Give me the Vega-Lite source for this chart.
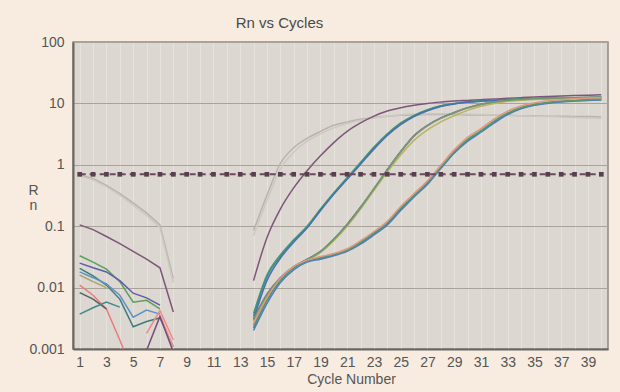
{
  "$schema": "https://vega.github.io/schema/vega-lite/v6.json",
  "width": 535,
  "height": 307,
  "autosize": "none",
  "padding": {"left": 73, "top": 42, "right": 12, "bottom": 43},
  "background": "#f8ece0",
  "config": {
    "font": "Liberation Sans",
    "view": {"fill": "#dcd7d0", "stroke": "#8e8984", "strokeWidth": 1.5},
    "axis": {"labelFont": "Liberation Sans", "titleFont": "Liberation Sans", "labelColor": "#555555", "titleColor": "#555555", "titleFontWeight": "normal", "labelFontSize": 14, "titleFontSize": 14, "ticks": false, "domainColor": "#6a6560", "domainWidth": 2}
  },
  "title": {"text": "Rn vs Cycles", "fontSize": 15, "fontWeight": "normal", "color": "#4a4a4a", "font": "Liberation Sans", "anchor": "middle", "dx": -61, "baseline": "bottom", "offset": -11},
  "datasets": {
    "curves": [
      {"s":"gA","x":1,"y":0.68},{"s":"gA","x":2,"y":0.6},{"s":"gA","x":3,"y":0.46},{"s":"gA","x":4,"y":0.34},{"s":"gA","x":5,"y":0.24},{"s":"gA","x":6,"y":0.165},{"s":"gA","x":7,"y":0.105},{"s":"gA","x":8,"y":0.014},
      {"s":"gB","x":1,"y":0.66},{"s":"gB","x":2,"y":0.57},{"s":"gB","x":3,"y":0.44},{"s":"gB","x":4,"y":0.32},{"s":"gB","x":5,"y":0.22},{"s":"gB","x":6,"y":0.15},{"s":"gB","x":7,"y":0.095},{"s":"gB","x":8,"y":0.012},
      {"s":"pu","x":1,"y":0.105},{"s":"pu","x":2,"y":0.088},{"s":"pu","x":3,"y":0.068},{"s":"pu","x":4,"y":0.052},{"s":"pu","x":5,"y":0.039},{"s":"pu","x":6,"y":0.029},{"s":"pu","x":7,"y":0.021},{"s":"pu","x":8,"y":0.004},
      {"s":"eg","x":1,"y":0.033},{"s":"eg","x":2,"y":0.026},{"s":"eg","x":3,"y":0.02},{"s":"eg","x":4,"y":0.0125},{"s":"eg","x":5,"y":0.0058},{"s":"eg","x":6,"y":0.0062},{"s":"eg","x":7,"y":0.0045},
      {"s":"edb","x":1,"y":0.025},{"s":"edb","x":2,"y":0.021},{"s":"edb","x":3,"y":0.018},{"s":"edb","x":4,"y":0.013},{"s":"edb","x":5,"y":0.0081},{"s":"edb","x":6,"y":0.0068},{"s":"edb","x":7,"y":0.0052},
      {"s":"et","x":1,"y":0.0205},{"s":"et","x":2,"y":0.0155},{"s":"et","x":3,"y":0.011},{"s":"et","x":4,"y":0.0065},{"s":"et","x":5,"y":0.0023},{"s":"et","x":6,"y":0.0028},{"s":"et","x":7,"y":0.0032},{"s":"et","x":8,"y":0.0011},
      {"s":"elb","x":1,"y":0.018},{"s":"elb","x":2,"y":0.0145},{"s":"elb","x":3,"y":0.0115},{"s":"elb","x":4,"y":0.0075},{"s":"elb","x":5,"y":0.0033},{"s":"elb","x":6,"y":0.0043},{"s":"elb","x":7,"y":0.0037},
      {"s":"eo","x":1,"y":0.016},{"s":"eo","x":2,"y":0.0125},{"s":"eo","x":3,"y":0.01},
      {"s":"er","x":1,"y":0.011},{"s":"er","x":2,"y":0.0075},{"s":"er","x":3,"y":0.0045},{"s":"er","x":4,"y":0.0014},{"s":"er","x":5,"y":0.0004},
      {"s":"edg","x":1,"y":0.0083},{"s":"edg","x":2,"y":0.0065},{"s":"edg","x":3,"y":0.0045},
      {"s":"etl","x":1,"y":0.0037},{"s":"etl","x":2,"y":0.0047},{"s":"etl","x":3,"y":0.0058},{"s":"etl","x":4,"y":0.0048},
      {"s":"ep1","x":6,"y":0.0018},{"s":"ep1","x":7,"y":0.0042},{"s":"ep1","x":8,"y":0.0014},
      {"s":"ep2","x":7,"y":0.0035},{"s":"ep2","x":8,"y":0.0011},
      {"s":"epu","x":6,"y":0.00095},{"s":"epu","x":7,"y":0.0034},{"s":"epu","x":8,"y":0.0009},

      {"s":"gA","x":14,"y":0.085},{"s":"gA","x":15,"y":0.32},{"s":"gA","x":16,"y":1.05},{"s":"gA","x":17,"y":1.9},{"s":"gA","x":18,"y":2.7},{"s":"gA","x":19,"y":3.5},{"s":"gA","x":20,"y":4.4},{"s":"gA","x":21,"y":5.0},{"s":"gA","x":22,"y":5.5},{"s":"gA","x":23,"y":5.9},{"s":"gA","x":24,"y":6.2},{"s":"gA","x":25,"y":6.4},{"s":"gA","x":26,"y":6.5},{"s":"gA","x":27,"y":6.6},{"s":"gA","x":28,"y":6.6},{"s":"gA","x":29,"y":6.6},{"s":"gA","x":30,"y":6.5},{"s":"gA","x":31,"y":6.5},{"s":"gA","x":32,"y":6.4},{"s":"gA","x":33,"y":6.4},{"s":"gA","x":34,"y":6.3},{"s":"gA","x":35,"y":6.3},{"s":"gA","x":36,"y":6.2},{"s":"gA","x":37,"y":6.2},{"s":"gA","x":38,"y":6.1},{"s":"gA","x":39,"y":6.1},{"s":"gA","x":40,"y":6.0},
      {"s":"gB","x":14,"y":0.07},{"s":"gB","x":15,"y":0.26},{"s":"gB","x":16,"y":0.85},{"s":"gB","x":17,"y":1.6},{"s":"gB","x":18,"y":2.4},{"s":"gB","x":19,"y":3.2},{"s":"gB","x":20,"y":4.0},{"s":"gB","x":21,"y":4.7},{"s":"gB","x":22,"y":5.3},{"s":"gB","x":23,"y":5.8},{"s":"gB","x":24,"y":6.2},{"s":"gB","x":25,"y":6.5},{"s":"gB","x":26,"y":6.7},{"s":"gB","x":27,"y":6.8},{"s":"gB","x":28,"y":6.8},{"s":"gB","x":29,"y":6.8},{"s":"gB","x":30,"y":6.7},{"s":"gB","x":31,"y":6.6},{"s":"gB","x":32,"y":6.5},{"s":"gB","x":33,"y":6.4},{"s":"gB","x":34,"y":6.3},{"s":"gB","x":35,"y":6.2},{"s":"gB","x":36,"y":6.1},{"s":"gB","x":37,"y":6.0},{"s":"gB","x":38,"y":5.9},{"s":"gB","x":39,"y":5.8},{"s":"gB","x":40,"y":5.7},
      {"s":"pu","x":14,"y":0.013},{"s":"pu","x":15,"y":0.065},{"s":"pu","x":16,"y":0.19},{"s":"pu","x":17,"y":0.42},{"s":"pu","x":18,"y":0.8},{"s":"pu","x":19,"y":1.4},{"s":"pu","x":20,"y":2.3},{"s":"pu","x":21,"y":3.5},{"s":"pu","x":22,"y":4.8},{"s":"pu","x":23,"y":6.2},{"s":"pu","x":24,"y":7.5},{"s":"pu","x":25,"y":8.5},{"s":"pu","x":26,"y":9.3},{"s":"pu","x":27,"y":10.0},{"s":"pu","x":28,"y":10.5},{"s":"pu","x":29,"y":10.9},{"s":"pu","x":30,"y":11.2},{"s":"pu","x":31,"y":11.5},{"s":"pu","x":32,"y":11.8},{"s":"pu","x":33,"y":12.1},{"s":"pu","x":34,"y":12.4},{"s":"pu","x":35,"y":12.7},{"s":"pu","x":36,"y":13.0},{"s":"pu","x":37,"y":13.2},{"s":"pu","x":38,"y":13.4},{"s":"pu","x":39,"y":13.6},{"s":"pu","x":40,"y":13.8},
      {"s":"g3a","x":14,"y":0.0038},{"s":"g3a","x":15,"y":0.016},{"s":"g3a","x":16,"y":0.034},{"s":"g3a","x":17,"y":0.06},{"s":"g3a","x":18,"y":0.1},{"s":"g3a","x":19,"y":0.19},{"s":"g3a","x":20,"y":0.35},{"s":"g3a","x":21,"y":0.62},{"s":"g3a","x":22,"y":1.1},{"s":"g3a","x":23,"y":1.95},{"s":"g3a","x":24,"y":3.2},{"s":"g3a","x":25,"y":4.8},{"s":"g3a","x":26,"y":6.4},{"s":"g3a","x":27,"y":7.9},{"s":"g3a","x":28,"y":9.2},{"s":"g3a","x":29,"y":10.0},{"s":"g3a","x":30,"y":10.6},{"s":"g3a","x":31,"y":11.0},{"s":"g3a","x":32,"y":11.3},{"s":"g3a","x":33,"y":11.6},{"s":"g3a","x":34,"y":11.8},{"s":"g3a","x":35,"y":12.0},{"s":"g3a","x":36,"y":12.2},{"s":"g3a","x":37,"y":12.3},{"s":"g3a","x":38,"y":12.4},{"s":"g3a","x":39,"y":12.5},{"s":"g3a","x":40,"y":12.6},
      {"s":"g3b","x":14,"y":0.0034},{"s":"g3b","x":15,"y":0.015},{"s":"g3b","x":16,"y":0.032},{"s":"g3b","x":17,"y":0.058},{"s":"g3b","x":18,"y":0.097},{"s":"g3b","x":19,"y":0.185},{"s":"g3b","x":20,"y":0.34},{"s":"g3b","x":21,"y":0.6},{"s":"g3b","x":22,"y":1.06},{"s":"g3b","x":23,"y":1.88},{"s":"g3b","x":24,"y":3.1},{"s":"g3b","x":25,"y":4.65},{"s":"g3b","x":26,"y":6.25},{"s":"g3b","x":27,"y":7.75},{"s":"g3b","x":28,"y":9.05},{"s":"g3b","x":29,"y":9.9},{"s":"g3b","x":30,"y":10.5},{"s":"g3b","x":31,"y":10.9},{"s":"g3b","x":32,"y":11.2},{"s":"g3b","x":33,"y":11.5},{"s":"g3b","x":34,"y":11.7},{"s":"g3b","x":35,"y":11.9},{"s":"g3b","x":36,"y":12.1},{"s":"g3b","x":37,"y":12.2},{"s":"g3b","x":38,"y":12.3},{"s":"g3b","x":39,"y":12.4},{"s":"g3b","x":40,"y":12.5},
      {"s":"g3c","x":14,"y":0.003},{"s":"g3c","x":15,"y":0.013},{"s":"g3c","x":16,"y":0.03},{"s":"g3c","x":17,"y":0.055},{"s":"g3c","x":18,"y":0.093},{"s":"g3c","x":19,"y":0.178},{"s":"g3c","x":20,"y":0.33},{"s":"g3c","x":21,"y":0.58},{"s":"g3c","x":22,"y":1.02},{"s":"g3c","x":23,"y":1.8},{"s":"g3c","x":24,"y":3.0},{"s":"g3c","x":25,"y":4.5},{"s":"g3c","x":26,"y":6.1},{"s":"g3c","x":27,"y":7.6},{"s":"g3c","x":28,"y":8.9},{"s":"g3c","x":29,"y":9.8},{"s":"g3c","x":30,"y":10.4},{"s":"g3c","x":31,"y":10.8},{"s":"g3c","x":32,"y":11.1},{"s":"g3c","x":33,"y":11.4},{"s":"g3c","x":34,"y":11.6},{"s":"g3c","x":35,"y":11.8},{"s":"g3c","x":36,"y":12.0},{"s":"g3c","x":37,"y":12.1},{"s":"g3c","x":38,"y":12.2},{"s":"g3c","x":39,"y":12.3},{"s":"g3c","x":40,"y":12.4},
      {"s":"g4a","x":14,"y":0.0031},{"s":"g4a","x":15,"y":0.0078},{"s":"g4a","x":16,"y":0.0145},{"s":"g4a","x":17,"y":0.022},{"s":"g4a","x":18,"y":0.029},{"s":"g4a","x":19,"y":0.039},{"s":"g4a","x":20,"y":0.062},{"s":"g4a","x":21,"y":0.108},{"s":"g4a","x":22,"y":0.205},{"s":"g4a","x":23,"y":0.41},{"s":"g4a","x":24,"y":0.84},{"s":"g4a","x":25,"y":1.65},{"s":"g4a","x":26,"y":3.0},{"s":"g4a","x":27,"y":4.4},{"s":"g4a","x":28,"y":5.8},{"s":"g4a","x":29,"y":7.1},{"s":"g4a","x":30,"y":8.5},{"s":"g4a","x":31,"y":9.7},{"s":"g4a","x":32,"y":10.6},{"s":"g4a","x":33,"y":11.2},{"s":"g4a","x":34,"y":11.6},{"s":"g4a","x":35,"y":11.9},{"s":"g4a","x":36,"y":12.1},{"s":"g4a","x":37,"y":12.3},{"s":"g4a","x":38,"y":12.4},{"s":"g4a","x":39,"y":12.5},{"s":"g4a","x":40,"y":12.6},
      {"s":"g4b","x":14,"y":0.0029},{"s":"g4b","x":15,"y":0.0074},{"s":"g4b","x":16,"y":0.014},{"s":"g4b","x":17,"y":0.021},{"s":"g4b","x":18,"y":0.028},{"s":"g4b","x":19,"y":0.038},{"s":"g4b","x":20,"y":0.06},{"s":"g4b","x":21,"y":0.104},{"s":"g4b","x":22,"y":0.198},{"s":"g4b","x":23,"y":0.4},{"s":"g4b","x":24,"y":0.81},{"s":"g4b","x":25,"y":1.6},{"s":"g4b","x":26,"y":2.9},{"s":"g4b","x":27,"y":4.3},{"s":"g4b","x":28,"y":5.7},{"s":"g4b","x":29,"y":7.0},{"s":"g4b","x":30,"y":8.4},{"s":"g4b","x":31,"y":9.6},{"s":"g4b","x":32,"y":10.5},{"s":"g4b","x":33,"y":11.1},{"s":"g4b","x":34,"y":11.5},{"s":"g4b","x":35,"y":11.8},{"s":"g4b","x":36,"y":12.0},{"s":"g4b","x":37,"y":12.2},{"s":"g4b","x":38,"y":12.3},{"s":"g4b","x":39,"y":12.4},{"s":"g4b","x":40,"y":12.5},
      {"s":"g4c","x":14,"y":0.0028},{"s":"g4c","x":15,"y":0.007},{"s":"g4c","x":16,"y":0.0135},{"s":"g4c","x":17,"y":0.021},{"s":"g4c","x":18,"y":0.028},{"s":"g4c","x":19,"y":0.037},{"s":"g4c","x":20,"y":0.058},{"s":"g4c","x":21,"y":0.1},{"s":"g4c","x":22,"y":0.19},{"s":"g4c","x":23,"y":0.38},{"s":"g4c","x":24,"y":0.76},{"s":"g4c","x":25,"y":1.45},{"s":"g4c","x":26,"y":2.5},{"s":"g4c","x":27,"y":3.7},{"s":"g4c","x":28,"y":5.0},{"s":"g4c","x":29,"y":6.3},{"s":"g4c","x":30,"y":7.7},{"s":"g4c","x":31,"y":9.0},{"s":"g4c","x":32,"y":10.0},{"s":"g4c","x":33,"y":10.8},{"s":"g4c","x":34,"y":11.3},{"s":"g4c","x":35,"y":11.6},{"s":"g4c","x":36,"y":11.9},{"s":"g4c","x":37,"y":12.1},{"s":"g4c","x":38,"y":12.2},{"s":"g4c","x":39,"y":12.3},{"s":"g4c","x":40,"y":12.4},
      {"s":"g4d","x":14,"y":0.003},{"s":"g4d","x":15,"y":0.0076},{"s":"g4d","x":16,"y":0.0142},{"s":"g4d","x":17,"y":0.0215},{"s":"g4d","x":18,"y":0.0285},{"s":"g4d","x":19,"y":0.0385},{"s":"g4d","x":20,"y":0.061},{"s":"g4d","x":21,"y":0.106},{"s":"g4d","x":22,"y":0.2},{"s":"g4d","x":23,"y":0.405},{"s":"g4d","x":24,"y":0.82},{"s":"g4d","x":25,"y":1.62},{"s":"g4d","x":26,"y":2.95},{"s":"g4d","x":27,"y":4.35},{"s":"g4d","x":28,"y":5.75},{"s":"g4d","x":29,"y":7.05},{"s":"g4d","x":30,"y":8.45},{"s":"g4d","x":31,"y":9.65},{"s":"g4d","x":32,"y":10.55},{"s":"g4d","x":33,"y":11.15},{"s":"g4d","x":34,"y":11.55},{"s":"g4d","x":35,"y":11.85},{"s":"g4d","x":36,"y":12.05},{"s":"g4d","x":37,"y":12.25},{"s":"g4d","x":38,"y":12.35},{"s":"g4d","x":39,"y":12.45},{"s":"g4d","x":40,"y":12.55},
      {"s":"g5a","x":14,"y":0.0022},{"s":"g5a","x":15,"y":0.0062},{"s":"g5a","x":16,"y":0.013},{"s":"g5a","x":17,"y":0.021},{"s":"g5a","x":18,"y":0.027},{"s":"g5a","x":19,"y":0.03},{"s":"g5a","x":20,"y":0.034},{"s":"g5a","x":21,"y":0.04},{"s":"g5a","x":22,"y":0.053},{"s":"g5a","x":23,"y":0.075},{"s":"g5a","x":24,"y":0.11},{"s":"g5a","x":25,"y":0.19},{"s":"g5a","x":26,"y":0.31},{"s":"g5a","x":27,"y":0.5},{"s":"g5a","x":28,"y":0.9},{"s":"g5a","x":29,"y":1.6},{"s":"g5a","x":30,"y":2.5},{"s":"g5a","x":31,"y":3.5},{"s":"g5a","x":32,"y":5.0},{"s":"g5a","x":33,"y":6.8},{"s":"g5a","x":34,"y":8.4},{"s":"g5a","x":35,"y":9.5},{"s":"g5a","x":36,"y":10.2},{"s":"g5a","x":37,"y":10.7},{"s":"g5a","x":38,"y":11.0},{"s":"g5a","x":39,"y":11.3},{"s":"g5a","x":40,"y":11.5},
      {"s":"g5b","x":14,"y":0.002},{"s":"g5b","x":15,"y":0.0055},{"s":"g5b","x":16,"y":0.012},{"s":"g5b","x":17,"y":0.0195},{"s":"g5b","x":18,"y":0.026},{"s":"g5b","x":19,"y":0.029},{"s":"g5b","x":20,"y":0.033},{"s":"g5b","x":21,"y":0.039},{"s":"g5b","x":22,"y":0.051},{"s":"g5b","x":23,"y":0.072},{"s":"g5b","x":24,"y":0.105},{"s":"g5b","x":25,"y":0.18},{"s":"g5b","x":26,"y":0.3},{"s":"g5b","x":27,"y":0.48},{"s":"g5b","x":28,"y":0.87},{"s":"g5b","x":29,"y":1.55},{"s":"g5b","x":30,"y":2.4},{"s":"g5b","x":31,"y":3.4},{"s":"g5b","x":32,"y":4.8},{"s":"g5b","x":33,"y":6.6},{"s":"g5b","x":34,"y":8.2},{"s":"g5b","x":35,"y":9.3},{"s":"g5b","x":36,"y":10.0},{"s":"g5b","x":37,"y":10.5},{"s":"g5b","x":38,"y":10.9},{"s":"g5b","x":39,"y":11.2},{"s":"g5b","x":40,"y":11.4},
      {"s":"g5c","x":14,"y":0.0024},{"s":"g5c","x":15,"y":0.0065},{"s":"g5c","x":16,"y":0.0135},{"s":"g5c","x":17,"y":0.0215},{"s":"g5c","x":18,"y":0.0275},{"s":"g5c","x":19,"y":0.031},{"s":"g5c","x":20,"y":0.035},{"s":"g5c","x":21,"y":0.041},{"s":"g5c","x":22,"y":0.055},{"s":"g5c","x":23,"y":0.078},{"s":"g5c","x":24,"y":0.115},{"s":"g5c","x":25,"y":0.2},{"s":"g5c","x":26,"y":0.32},{"s":"g5c","x":27,"y":0.52},{"s":"g5c","x":28,"y":0.93},{"s":"g5c","x":29,"y":1.65},{"s":"g5c","x":30,"y":2.6},{"s":"g5c","x":31,"y":3.6},{"s":"g5c","x":32,"y":5.2},{"s":"g5c","x":33,"y":7.0},{"s":"g5c","x":34,"y":8.6},{"s":"g5c","x":35,"y":9.7},{"s":"g5c","x":36,"y":10.4},{"s":"g5c","x":37,"y":10.9},{"s":"g5c","x":38,"y":11.2},{"s":"g5c","x":39,"y":11.5},{"s":"g5c","x":40,"y":11.7},
      {"s":"g5d","x":14,"y":0.0026},{"s":"g5d","x":15,"y":0.0068},{"s":"g5d","x":16,"y":0.014},{"s":"g5d","x":17,"y":0.022},{"s":"g5d","x":18,"y":0.028},{"s":"g5d","x":19,"y":0.032},{"s":"g5d","x":20,"y":0.036},{"s":"g5d","x":21,"y":0.043},{"s":"g5d","x":22,"y":0.058},{"s":"g5d","x":23,"y":0.082},{"s":"g5d","x":24,"y":0.12},{"s":"g5d","x":25,"y":0.21},{"s":"g5d","x":26,"y":0.34},{"s":"g5d","x":27,"y":0.55},{"s":"g5d","x":28,"y":0.98},{"s":"g5d","x":29,"y":1.75},{"s":"g5d","x":30,"y":2.8},{"s":"g5d","x":31,"y":3.9},{"s":"g5d","x":32,"y":5.6},{"s":"g5d","x":33,"y":7.5},{"s":"g5d","x":34,"y":9.1},{"s":"g5d","x":35,"y":10.2},{"s":"g5d","x":36,"y":11.0},{"s":"g5d","x":37,"y":11.5},{"s":"g5d","x":38,"y":11.9},{"s":"g5d","x":39,"y":12.2},{"s":"g5d","x":40,"y":12.4}
    ],
    "threshold": [
      {"x":1,"y":0.7},{"x":2,"y":0.7},{"x":3,"y":0.7},{"x":4,"y":0.7},{"x":5,"y":0.7},{"x":6,"y":0.7},{"x":7,"y":0.7},{"x":8,"y":0.7},{"x":9,"y":0.7},{"x":10,"y":0.7},
      {"x":11,"y":0.7},{"x":12,"y":0.7},{"x":13,"y":0.7},{"x":14,"y":0.7},{"x":15,"y":0.7},{"x":16,"y":0.7},{"x":17,"y":0.7},{"x":18,"y":0.7},{"x":19,"y":0.7},{"x":20,"y":0.7},
      {"x":21,"y":0.7},{"x":22,"y":0.7},{"x":23,"y":0.7},{"x":24,"y":0.7},{"x":25,"y":0.7},{"x":26,"y":0.7},{"x":27,"y":0.7},{"x":28,"y":0.7},{"x":29,"y":0.7},{"x":30,"y":0.7},
      {"x":31,"y":0.7},{"x":32,"y":0.7},{"x":33,"y":0.7},{"x":34,"y":0.7},{"x":35,"y":0.7},{"x":36,"y":0.7},{"x":37,"y":0.7},{"x":38,"y":0.7},{"x":39,"y":0.7},{"x":40,"y":0.7}
    ]
  },
  "encoding": {
    "x": {"field": "x", "type": "quantitative", "scale": {"domain": [0.5, 40.5], "nice": false, "zero": false},
      "axis": {"values": [1,2,3,4,5,6,7,8,9,10,11,12,13,14,15,16,17,18,19,20,21,22,23,24,25,26,27,28,29,30,31,32,33,34,35,36,37,38,39,40],
        "labelExpr": "datum.value % 2 == 1 ? datum.label : ''", "grid": true, "gridColor": "#e6e2dc", "gridWidth": 1, "labelPadding": 6, "labelBaseline": "top",
        "title": "Cycle Number", "titlePadding": 3, "titleX": 278, "titleAnchor": null}},
    "y": {"field": "y", "type": "quantitative", "scale": {"type": "log", "domain": [0.001, 100], "nice": false},
      "axis": {"values": [0.001, 0.01, 0.1, 1, 10, 100], "format": "~g", "grid": true, "gridColor": "#a9a39b", "gridWidth": 1, "labelPadding": 9,
        "title": ["R", "n"], "titleAngle": 0, "titleAlign": "center", "titleBaseline": "middle", "titleX": -40, "titleY": 148, "titleLineHeight": 15}}
  },
  "layer": [
    {
      "data": {"name": "curves"},
      "transform": [{"filter": "datum.x <= 8"}],
      "mark": {"type": "line", "clip": true, "interpolate": "linear"},
      "encoding": {
        "detail": {"field": "s"},
        "color": {"field": "s", "type": "nominal", "legend": null,
          "scale": {"domain": ["gA","gB","pu","eg","edb","et","elb","eo","er","edg","etl","ep1","ep2","epu","g3a","g3b","g3c","g4a","g4b","g4c","g4d","g5a","g5b","g5c","g5d"],
            "range": ["#b8b3ad","#cdc8c2","#7e557a","#58a05c","#5d5ea6","#3c7c7e","#5f93c4","#a9a566","#ee7b7b","#556068","#3f8a8c","#f08a84","#ea9a8e","#7a4a7c","#4e9a64","#3c8e8e","#4a70b0","#7a5a98","#d48a92","#b8b262","#6a9c70","#3a8a84","#4f7fb8","#5b9b6a","#e2967e"]}},
        "size": {"field": "s", "type": "nominal", "legend": null,
          "scale": {"domain": ["gA","gB","pu","eg","edb","et","elb","eo","er","edg","etl","ep1","ep2","epu","g3a","g3b","g3c","g4a","g4b","g4c","g4d","g5a","g5b","g5c","g5d"],
            "range": [1.5,1.5,1.8,1.8,1.8,1.8,1.6,1.6,2,1.6,1.6,2,1.8,1.8,2.5,2.5,2,1.4,1.4,1.4,1.4,2.5,2,2,1.5]}}
      }
    },
    {
      "data": {"name": "curves"},
      "transform": [{"filter": "datum.x >= 14"}],
      "mark": {"type": "line", "clip": true, "interpolate": "monotone"},
      "encoding": {
        "detail": {"field": "s"},
        "color": {"field": "s", "type": "nominal", "legend": null},
        "size": {"field": "s", "type": "nominal", "legend": null}
      }
    },
    {
      "data": {"name": "threshold"},
      "mark": {"type": "line", "color": "#6a4a5c", "strokeWidth": 2, "strokeDash": [6, 4]},
      "encoding": {}
    },
    {
      "data": {"name": "threshold"},
      "mark": {"type": "point", "shape": "square", "filled": true, "size": 22, "color": "#5a3f50", "opacity": 1},
      "encoding": {}
    }
  ]
}
